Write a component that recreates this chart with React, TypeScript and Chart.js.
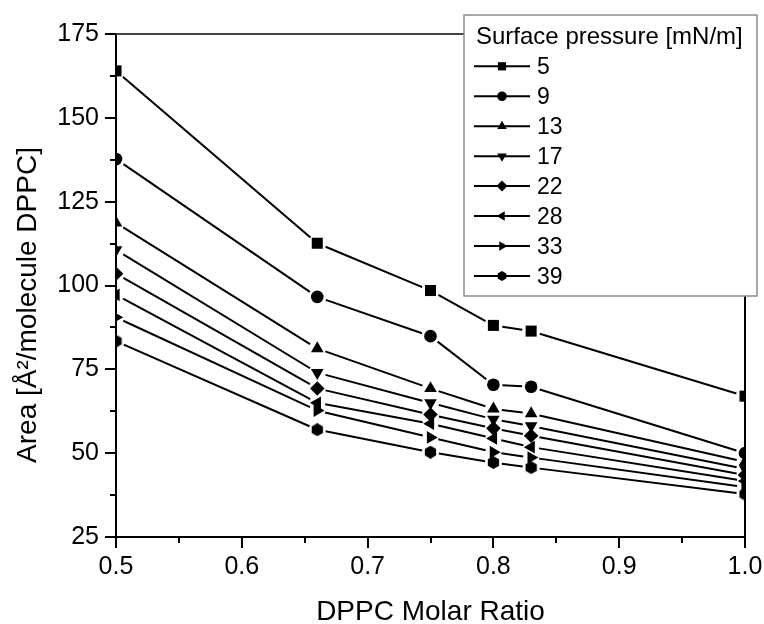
import React, { useEffect, useRef } from 'react';
import { Chart, registerables } from 'chart.js';
import { drawPoint } from 'chart.js/helpers';

Chart.register(...registerables);

// ---- data ----
const molarRatio = [0.5, 0.66, 0.75, 0.8, 0.83, 1.0];
const pressureLabels = ['5', '9', '13', '17', '22', '28', '33', '39'];
const area5 = [164.0, 112.6, 98.5, 88.1, 86.4, 67.0];
const area9 = [137.7, 96.6, 84.9, 70.4, 69.8, 50.0];
const area13 = [118.7, 81.2, 69.3, 63.2, 61.8, 47.4];
const area17 = [110.6, 74.0, 65.0, 60.1, 58.1, 45.3];
const area22 = [103.5, 69.3, 61.5, 57.4, 55.2, 43.5];
const area28 = [97.2, 65.0, 58.8, 54.4, 51.8, 41.7];
const area33 = [90.5, 62.7, 54.7, 50.3, 48.7, 39.9];
const area39 = [83.4, 57.0, 50.3, 47.2, 45.7, 37.8];
const seriesValues = [area5, area9, area13, area17, area22, area28, area33, area39];

const xTicks = [0.5, 0.6, 0.7, 0.8, 0.9, 1.0];
const xMinorTicks = [0.55, 0.65, 0.75, 0.85, 0.95];
const yTicks = [25, 50, 75, 100, 125, 150, 175];
const yMinorTicks = [37.5, 62.5, 87.5, 112.5, 137.5, 162.5];

const xTitle = 'DPPC Molar Ratio';
const yTitle = 'Area [Å²/molecule DPPC]';
const legendTitle = 'Surface pressure [mN/m]';

const FONT = '"Liberation Sans", Arial, Helvetica, sans-serif';

function makeHexagon(size: number): HTMLCanvasElement {
  const c = document.createElement('canvas');
  c.width = size;
  c.height = size;
  const ctx = c.getContext('2d')!;
  const r = size / 2;
  ctx.fillStyle = '#000';
  ctx.beginPath();
  for (let i = 0; i < 6; i++) {
    const a = Math.PI / 6 + (i * Math.PI) / 3;
    const px = r + r * Math.cos(a);
    const py = r + r * Math.sin(a);
    if (i === 0) ctx.moveTo(px, py);
    else ctx.lineTo(px, py);
  }
  ctx.closePath();
  ctx.fill();
  return c;
}

export default function App() {
  const canvasRef = useRef<HTMLCanvasElement | null>(null);

  useEffect(() => {
    const canvas = canvasRef.current;
    if (!canvas) return;
    const hexBig = makeHexagon(13);
    const hexSmall = makeHexagon(10);

    const styles: any[] = ['rect', 'circle', 'triangle', 'triangle', 'rectRot', 'triangle', 'triangle', hexBig];
    const legendStyles: any[] = ['rect', 'circle', 'triangle', 'triangle', 'rectRot', 'triangle', 'triangle', hexSmall];
    const rotations = [0, 0, 0, 180, 0, -90, 90, 0];
    const radii = [7.8, 6.3, 7.3, 7.3, 7.3, 7.3, 7.3, 6.5];
    const legendRadii = [5.8, 4.8, 5.5, 5.5, 5.5, 5.5, 5.5, 5];
    const gaps = [9, 9, 8.5, 8.5, 8.5, 8, 8, 8.5];

    const datasets = seriesValues.map((vals, i) => ({
      label: pressureLabels[i],
      data: molarRatio.map((x, j) => ({ x, y: vals[j] })),
      showLine: false,
      borderColor: '#000',
      backgroundColor: '#000',
      pointStyle: styles[i],
      rotation: rotations[i],
      pointRadius: radii[i],
      pointHoverRadius: radii[i],
      pointBackgroundColor: '#000',
      pointBorderColor: '#000',
      pointBorderWidth: 0,
    }));

    const gapLines = {
      id: 'gapLines',
      beforeDatasetsDraw(chart: any) {
        const { ctx, chartArea } = chart;
        ctx.save();
        ctx.beginPath();
        ctx.rect(chartArea.left, chartArea.top, chartArea.right - chartArea.left, chartArea.bottom - chartArea.top);
        ctx.clip();
        ctx.strokeStyle = '#000';
        ctx.lineWidth = 2;
        ctx.lineCap = 'butt';
        chart.data.datasets.forEach((_: any, i: number) => {
          const meta = chart.getDatasetMeta(i);
          const pts = meta.data;
          const g = gaps[i];
          for (let k = 0; k < pts.length - 1; k++) {
            const p0 = pts[k];
            const p1 = pts[k + 1];
            const dx = p1.x - p0.x;
            const dy = p1.y - p0.y;
            const len = Math.hypot(dx, dy);
            if (len <= 2 * g) continue;
            const ux = dx / len;
            const uy = dy / len;
            ctx.beginPath();
            ctx.moveTo(p0.x + ux * g, p0.y + uy * g);
            ctx.lineTo(p1.x - ux * g, p1.y - uy * g);
            ctx.stroke();
          }
        });
        ctx.restore();
      },
    };

    const frameAndExtras = {
      id: 'frameAndExtras',
      afterDraw(chart: any) {
        const { ctx, chartArea } = chart;
        const xs = chart.scales.x;
        const ys = chart.scales.y;
        ctx.save();
        // top and right frame
        ctx.strokeStyle = '#444';
        ctx.lineWidth = 2;
        ctx.beginPath();
        ctx.moveTo(chartArea.left, chartArea.top);
        ctx.lineTo(chartArea.right + 1, chartArea.top);
        ctx.stroke();
        ctx.strokeStyle = '#000';
        ctx.beginPath();
        ctx.moveTo(chartArea.right, chartArea.top);
        ctx.lineTo(chartArea.right, chartArea.bottom);
        ctx.stroke();
        // minor ticks
        ctx.lineWidth = 2;
        ctx.strokeStyle = '#000';
        xMinorTicks.forEach((v) => {
          const px = Math.round(xs.getPixelForValue(v));
          ctx.beginPath();
          ctx.moveTo(px, chartArea.bottom);
          ctx.lineTo(px, chartArea.bottom + 6);
          ctx.stroke();
        });
        yMinorTicks.forEach((v) => {
          const py = Math.round(ys.getPixelForValue(v));
          ctx.beginPath();
          ctx.moveTo(chartArea.left, py);
          ctx.lineTo(chartArea.left - 6, py);
          ctx.stroke();
        });
        // axis titles
        ctx.fillStyle = '#000';
        ctx.font = `28px ${FONT}`;
        ctx.textAlign = 'center';
        ctx.textBaseline = 'alphabetic';
        ctx.fillText(xTitle, (chartArea.left + chartArea.right) / 2, 620);
        ctx.save();
        ctx.translate(35.5, 305);
        ctx.rotate(-Math.PI / 2);
        ctx.fillText(yTitle, 0, 0);
        ctx.restore();

        // legend
        const bx = 464, by = 15, bw = 293, bh = 281;
        ctx.fillStyle = '#fff';
        ctx.fillRect(bx, by, bw, bh);
        ctx.strokeStyle = '#8c8c8c';
        ctx.lineWidth = 1.5;
        ctx.strokeRect(bx, by, bw, bh);
        ctx.fillStyle = '#000';
        ctx.textAlign = 'left';
        ctx.font = `24px ${FONT}`;
        ctx.fillText(legendTitle, 476, 44);
        ctx.font = `23px ${FONT}`;
        pressureLabels.forEach((lab, i) => {
          const ly = 66.3 + 29.95 * i;
          ctx.strokeStyle = '#000';
          ctx.lineWidth = 2;
          ctx.beginPath();
          ctx.moveTo(474, ly);
          ctx.lineTo(530, ly);
          ctx.stroke();
          ctx.fillStyle = '#000';
          ctx.strokeStyle = '#000';
          drawPoint(ctx, {
            pointStyle: legendStyles[i],
            rotation: rotations[i],
            radius: legendRadii[i],
            borderWidth: 0,
          } as any, 502, ly);
          ctx.fillStyle = '#000';
          ctx.fillText(lab, 537, ly + 8);
        });
        ctx.restore();
      },
    };

    const chart = new Chart(canvas, {
      type: 'scatter',
      data: { datasets },
      options: {
        animation: false,
        responsive: false,
        devicePixelRatio: 1,
        events: [],
        layout: { padding: { top: 34, right: 19, left: 0, bottom: 0 } },
        plugins: {
          legend: { display: false },
          tooltip: { enabled: false },
        },
        scales: {
          x: {
            type: 'linear',
            min: 0.5,
            max: 1.0,
            afterBuildTicks: (scale: any) => {
              scale.ticks = xTicks.map((v) => ({ value: v }));
            },
            afterFit: (scale: any) => {
              scale.height = 87;
              scale.paddingLeft = 0;
              scale.paddingRight = 0;
            },
            grid: {
              drawOnChartArea: false,
              drawTicks: true,
              tickLength: 11,
              tickWidth: 2,
              tickColor: '#000',
              color: '#000',
              lineWidth: 2,
            },
            border: { display: true, color: '#000', width: 2 },
            ticks: {
              color: '#000',
              font: { family: FONT, size: 25 },
              padding: 4,
              maxRotation: 0,
              autoSkip: false,
              callback: (v: any) => Number(v).toFixed(1),
            },
          },
          y: {
            type: 'linear',
            min: 25,
            max: 175,
            afterBuildTicks: (scale: any) => {
              scale.ticks = yTicks.map((v) => ({ value: v }));
            },
            afterFit: (scale: any) => {
              scale.width = 116;
            },
            grid: {
              drawOnChartArea: false,
              drawTicks: true,
              tickLength: 11,
              tickWidth: 2,
              tickColor: '#000',
              color: '#000',
              lineWidth: 2,
            },
            border: { display: true, color: '#000', width: 2 },
            ticks: {
              color: '#000',
              font: { family: FONT, size: 25 },
              padding: 6,
              autoSkip: false,
              callback: (v: any) => String(Math.round(Number(v))),
            },
          },
        },
      },
      plugins: [gapLines, frameAndExtras],
    });

    return () => {
      chart.destroy();
    };
  }, []);

  return (
    <div style={{ position: 'absolute', left: 0, top: 0, width: 764, height: 624, background: '#fff' }}>
      <canvas ref={canvasRef} width={764} height={624} style={{ display: 'block' }} />
    </div>
  );
}
